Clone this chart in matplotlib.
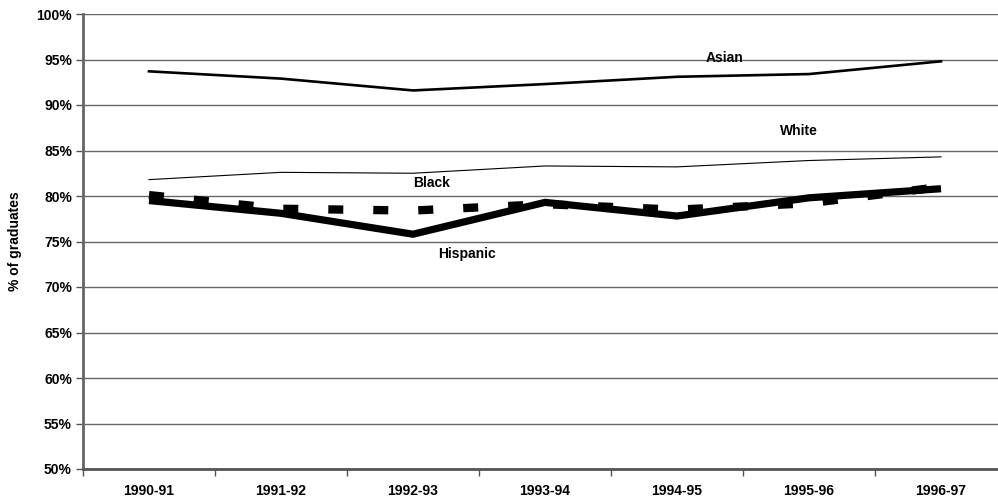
import matplotlib
matplotlib.use("Agg")
import matplotlib.pyplot as plt
from matplotlib.ticker import FixedLocator, PercentFormatter

plt.rcParams['font.family'] = ['Liberation Sans', 'DejaVu Sans']
plt.rcParams['font.weight'] = 'bold'

years = ['1990-91', '1991-92', '1992-93', '1993-94', '1994-95', '1995-96', '1996-97']
asian = [93.7, 92.9, 91.6, 92.3, 93.1, 93.4, 94.8]
white = [81.8, 82.6, 82.5, 83.3, 83.2, 83.9, 84.3]
black = [80.1, 78.6, 78.4, 79.1, 78.5, 79.2, 81.0]
hispanic = [79.5, 78.1, 75.8, 79.3, 77.8, 79.8, 80.8]

fs = 10

fig = plt.figure(figsize=(9.98, 5.04), dpi=100)
ax = fig.add_axes([83/998, 35/504, 924/998, 455/504])

x = list(range(len(years)))
ax.plot(x, asian, color='black', lw=1.9, zorder=3)
ax.plot(x, white, color='black', lw=0.8, zorder=3)
ax.plot(x, hispanic, color='black', lw=5.2, solid_capstyle='butt', solid_joinstyle='miter', zorder=3)
ax.plot(x, black, color='black', lw=6, dashes=(1.8, 3.6), dash_capstyle='butt', zorder=4)

ax.text(4.36, 95.2, 'Asian', ha='center', va='center', fontsize=fs, fontweight='bold')
ax.text(4.92, 87.1, 'White', ha='center', va='center', fontsize=fs, fontweight='bold')
ax.text(2.14, 81.4, 'Black', ha='center', va='center', fontsize=fs, fontweight='bold')
ax.text(2.41, 73.6, 'Hispanic', ha='center', va='center', fontsize=fs, fontweight='bold')

ax.set_xlim(-0.5, 6.5)
ax.set_ylim(50, 100)
ax.set_yticks(range(50, 101, 5))
ax.yaxis.set_major_formatter(PercentFormatter(decimals=0))
ax.set_xticks(x)
ax.set_xticklabels(years)
ax.xaxis.set_minor_locator(FixedLocator([i - 0.5 for i in range(8)]))
ax.tick_params(axis='x', which='major', length=0, pad=11, labelsize=fs)
ax.tick_params(axis='x', which='minor', length=5, color='#555555', width=1)
ax.tick_params(axis='y', length=5, color='#555555', width=1, pad=3, labelsize=fs)
for lab in ax.get_xticklabels() + ax.get_yticklabels():
    lab.set_fontweight('bold')

ax.grid(axis='y', color='#666666', lw=1)
ax.set_axisbelow(True)
for s in ['top', 'right']:
    ax.spines[s].set_visible(False)
ax.spines['left'].set_color('#666666')
ax.spines['left'].set_linewidth(2)
ax.spines['bottom'].set_color('#555555')
ax.spines['bottom'].set_linewidth(2)

ax.set_ylabel('% of graduates', fontsize=fs, fontweight='bold', labelpad=10)

fig.savefig('out.png', dpi=100)
